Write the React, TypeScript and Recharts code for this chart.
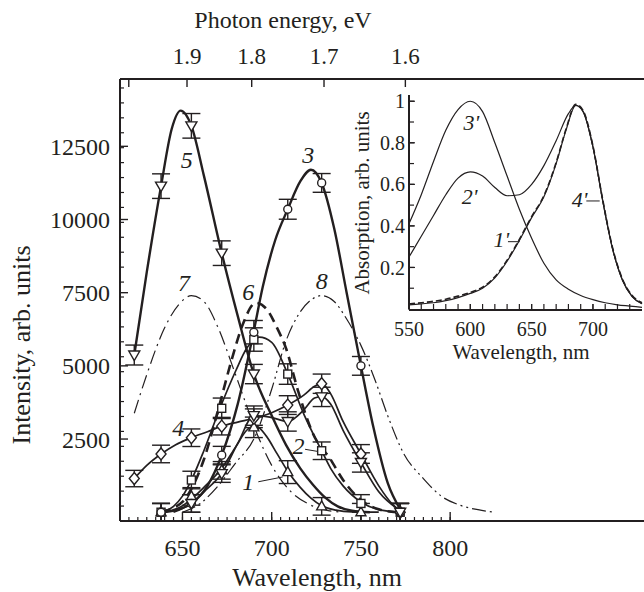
import {
  ComposedChart,
  Line,
  Scatter,
  XAxis,
  YAxis,
  ErrorBar,
  ReferenceDot,
  ReferenceLine,
} from "recharts";

const INK = "#231f20";
const SERIF = '"Liberation Serif", "Times New Roman", serif';

// ---- main panel: photoluminescence ----
const markX = [623, 638, 655, 672, 690, 709, 728, 750, 772];
const mark1 = [null, 0, 540, 1430, 2900, 1370, 200, 0, null];
const err1 = [0, 300, 300, 300, 350, 390, 300, 300, 0];
const mark2 = [null, 0, 1100, 3550, 5900, 4720, 2100, 300, 0];
const err2 = [0, 300, 300, 350, 400, 350, 300, 300, 300];
const mark3 = [null, 0, 300, 1950, 6150, 10350, 11250, 5000, 0];
const err3 = [0, 300, 300, 300, 400, 340, 320, 320, 300];
const mark4 = [1150, 1990, 2545, 2940, 3210, 3660, 4390, 1990, 0];
const err4 = [280, 300, 300, 300, 320, 320, 330, 320, 300];
const mark5 = [5370, 11140, 13200, 8850, 4720, null, null, null, null];
const err5 = [340, 420, 420, 420, 330, 0, 0, 0, 0];
const markL = [null, null, 300, 1320, 3300, 3100, 3940, 1700, 0];
const errL = [0, 0, 300, 300, 330, 330, 330, 330, 300];

const fit1X = [638, 648, 655, 662, 672, 680, 686, 691, 697, 703, 709, 716, 722, 728, 736, 745, 760];
const fit1Y = [0, 150, 450, 850, 1500, 2250, 2800, 2950, 2600, 2000, 1400, 850, 480, 220, 70, 10, 0];
const fit2X = [638, 645, 650, 655, 662, 671, 680, 686, 693, 700, 709, 718, 728, 733, 740, 750, 760, 772];
const fit2Y = [0, 200, 550, 1100, 2100, 3550, 4850, 5600, 5980, 5800, 4720, 3350, 2100, 1500, 900, 350, 90, 0];
const fit3X = [638, 648, 655, 664, 672, 681, 690, 695, 702, 709, 716, 722, 728, 735, 742, 750, 757, 765, 772];
const fit3Y = [0, 100, 300, 900, 1950, 3700, 6200, 7700, 9300, 10350, 11300, 11700, 11250, 9700, 7500, 5000, 2900, 1000, 100];
const fit4X = [623, 630, 638, 646, 655, 664, 672, 681, 690, 700, 709, 718, 724, 728, 733, 740, 750, 760, 768, 772];
const fit4Y = [1150, 1600, 1990, 2300, 2545, 2750, 2940, 3080, 3210, 3400, 3660, 4000, 4300, 4390, 4050, 3100, 1990, 900, 250, 50];
const fit5X = [623, 630, 638, 644, 649, 655, 662, 672, 681, 690, 700, 708, 716, 723, 730, 737, 745, 755];
const fit5Y = [5370, 8200, 11140, 13100, 13720, 13200, 11500, 8850, 6700, 4720, 3300, 2300, 1500, 950, 500, 200, 50, 0];
const fitLX = [645, 655, 663, 672, 681, 690, 699, 709, 718, 724, 728, 733, 740, 750, 760, 772];
const fitLY = [0, 300, 750, 1320, 2350, 3300, 3250, 3100, 3500, 3900, 3950, 3700, 2800, 1700, 700, 50];
const fit6X = [638, 645, 650, 655, 662, 670, 678, 684, 691, 697, 703, 708, 715, 723, 733, 740, 751, 760, 770];
const fit6Y = [0, 150, 350, 800, 1800, 3500, 5300, 6450, 7150, 6950, 6300, 5600, 4100, 2700, 1800, 1100, 370, 100, 0];
const fit7X = [623, 630, 640, 648, 655, 662, 670, 678, 685, 692, 700, 710, 720, 730, 740];
const fit7Y = [3380, 4700, 6300, 7100, 7400, 7200, 6300, 5000, 3800, 2650, 1600, 750, 300, 80, 0];
const fit8X = [650, 660, 670, 680, 690, 700, 708, 715, 722, 728, 735, 742, 750, 758, 765, 774, 785, 795, 805, 817, 825];
const fit8Y = [0, 300, 900, 1700, 2500, 4200, 5850, 6750, 7250, 7400, 7200, 6600, 5700, 4500, 3300, 2000, 1150, 550, 250, 70, 0];

const wlTicks = [650, 700, 750, 800];
const wlMinor = Array.from({ length: 37 }, (_, i) => 620 + i * 5);
const intTicks = [2500, 5000, 7500, 10000, 12500];
const intMinor = Array.from({ length: 29 }, (_, i) => 500 + i * 500);
const energyTicks = [2.0, 1.9, 1.8, 1.7, 1.6];
const energyLabels = ["", "1.9", "1.8", "1.7", "1.6"];

// ---- inset: absorption ----
const ab3X = [550, 560, 570, 580, 590, 600, 610, 620, 630, 640, 650, 660, 670, 680, 690, 700, 710, 720, 730, 740];
const ab3Y = [0.41, 0.55, 0.71, 0.86, 0.96, 1.0, 0.95, 0.8, 0.64, 0.48, 0.34, 0.22, 0.14, 0.095, 0.065, 0.045, 0.03, 0.02, 0.014, 0.008];
const ab2X = [550, 560, 570, 580, 590, 600, 610, 620, 630, 640, 650, 660, 670, 680, 686, 692, 700, 708, 716, 724, 732, 740];
const ab2Y = [0.25, 0.35, 0.45, 0.55, 0.63, 0.66, 0.64, 0.585, 0.545, 0.55, 0.6, 0.69, 0.81, 0.94, 0.98, 0.95, 0.78, 0.52, 0.29, 0.14, 0.06, 0.025];
const ab1X = [550, 560, 570, 580, 590, 600, 610, 620, 630, 640, 650, 660, 670, 678, 686, 692, 700, 708, 716, 724, 732, 740];
const ab1Y = [0.02, 0.025, 0.03, 0.04, 0.055, 0.075, 0.1, 0.15, 0.23, 0.33, 0.44, 0.54, 0.7, 0.86, 0.98, 0.95, 0.78, 0.52, 0.29, 0.14, 0.06, 0.025];
const ab4Y = [0.025, 0.03, 0.037, 0.047, 0.062, 0.08, 0.105, 0.155, 0.235, 0.335, 0.445, 0.545, 0.705, 0.865, 0.985, 0.955, 0.785, 0.525, 0.295, 0.145, 0.065, 0.03];

const insWlTicks = [550, 600, 650, 700];
const insWlMinor = Array.from({ length: 18 }, (_, i) => 560 + i * 10);
const insAbTicks = [0.2, 0.4, 0.6, 0.8, 1];
const insAbMinor = Array.from({ length: 10 }, (_, i) => (i + 1) / 10);

const zip = (xs: number[], ys: number[]) => xs.map((x, i) => ({ x, y: ys[i] }));
const marks = (ys: (number | null)[], es: number[]) =>
  markX
    .map((x, i) => ({ x, y: ys[i], e: es[i] }))
    .filter((p) => p.y !== null);

type P = { cx?: number; cy?: number };
const Circ = ({ cx = 0, cy = 0 }: P) => (
  <circle cx={cx} cy={cy} r={4} fill="#fff" stroke={INK} strokeWidth={1.4} />
);
const Sq = ({ cx = 0, cy = 0 }: P) => (
  <rect x={cx - 4} y={cy - 4} width={8} height={8} fill="#fff" stroke={INK} strokeWidth={1.4} />
);
const TriUp = ({ cx = 0, cy = 0 }: P) => (
  <polygon
    points={`${cx},${cy - 5.5} ${cx + 5},${cy + 3.5} ${cx - 5},${cy + 3.5}`}
    fill="#fff"
    stroke={INK}
    strokeWidth={1.4}
  />
);
const TriDown = ({ cx = 0, cy = 0 }: P) => (
  <polygon
    points={`${cx - 5.5},${cy - 4} ${cx + 5.5},${cy - 4} ${cx},${cy + 5.5}`}
    fill="#fff"
    stroke={INK}
    strokeWidth={1.4}
  />
);
const Diam = ({ cx = 0, cy = 0 }: P) => (
  <polygon
    points={`${cx},${cy - 6} ${cx + 5},${cy} ${cx},${cy + 6} ${cx - 5},${cy}`}
    fill="#fff"
    stroke={INK}
    strokeWidth={1.4}
  />
);

const tag = (text: string, size: number) => (p: any) => (
  <text
    x={p.cx}
    y={p.cy}
    textAnchor="middle"
    dominantBaseline="central"
    fontSize={size}
    fontStyle="italic"
    fontFamily={SERIF}
    fill={INK}
  >
    {text}
  </text>
);

const blank = () => "";
const tickFont = (size: number) => ({ fontSize: size, fill: INK, fontFamily: SERIF });

function MainPanel() {
  const fits: [number[], number[], number, string | undefined][] = [
    [fit7X, fit7Y, 1.2, "14 5 2 5"],
    [fit8X, fit8Y, 1.2, "14 4 2 4 2 4"],
    [fit6X, fit6Y, 2.6, "10 6"],
    [fit1X, fit1Y, 1.7, undefined],
    [fit2X, fit2Y, 1.7, undefined],
    [fitLX, fitLY, 1.7, undefined],
    [fit4X, fit4Y, 1.7, undefined],
    [fit3X, fit3Y, 2.4, undefined],
    [fit5X, fit5Y, 2.4, undefined],
  ];
  const sets: [(number | null)[], number[], (p: P) => any][] = [
    [mark1, err1, TriUp],
    [mark2, err2, Sq],
    [mark3, err3, Circ],
    [mark4, err4, Diam],
    [markL, errL, TriDown],
    [mark5, err5, TriDown],
  ];
  return (
    <ComposedChart width={700} height={592} margin={{ top: 78, right: 0, left: 118, bottom: 69 }}>
      <XAxis
        xAxisId="main"
        type="number"
        dataKey="x"
        domain={[615, 940]}
        ticks={wlTicks}
        interval={0}
        height={1}
        axisLine={{ stroke: INK, strokeWidth: 2 }}
        tickSize={-9}
        tickMargin={27}
        tickLine={{ stroke: INK, strokeWidth: 1.4 }}
        tick={tickFont(24)}
      />
      <XAxis
        xAxisId="minor"
        type="number"
        dataKey="x"
        domain={[615, 940]}
        allowDataOverflow
        ticks={wlMinor}
        interval={0}
        height={1}
        axisLine={false}
        tickSize={-5}
        tickLine={{ stroke: INK, strokeWidth: 1.2 }}
        tickFormatter={blank}
      />
      <XAxis
        xAxisId="top"
        orientation="top"
        type="number"
        dataKey="x"
        domain={[615, 940]}
        allowDataOverflow
        ticks={energyTicks.map((e) => 1239.84 / e)}
        interval={0}
        height={1}
        axisLine={{ stroke: INK, strokeWidth: 2 }}
        tickSize={-8}
        tickMargin={23}
        tickLine={{ stroke: INK, strokeWidth: 1.4 }}
        tick={tickFont(23)}
        tickFormatter={(v: number) => energyLabels[energyTicks.findIndex((e) => Math.abs(1239.84 / e - v) < 0.01)] ?? ""}
      />
      <YAxis
        yAxisId="main"
        type="number"
        dataKey="y"
        domain={[0, 14800]}
        ticks={intTicks}
        interval={0}
        width={1}
        axisLine={{ stroke: INK, strokeWidth: 2 }}
        tickSize={-8}
        tickMargin={18}
        tickLine={{ stroke: INK, strokeWidth: 1.4 }}
        tick={tickFont(24)}
      />
      <YAxis
        yAxisId="minor"
        type="number"
        dataKey="y"
        domain={[0, 14800]}
        allowDataOverflow
        ticks={intMinor}
        interval={0}
        width={1}
        axisLine={false}
        tickSize={-5}
        tickLine={{ stroke: INK, strokeWidth: 1.2 }}
        tickFormatter={blank}
      />
      {fits.map(([xs, ys, w, dash], i) => (
        <Line
          key={"f" + i}
          xAxisId="main"
          yAxisId="main"
          data={zip(xs, ys)}
          dataKey="y"
          type="monotone"
          stroke={INK}
          strokeWidth={w}
          strokeDasharray={dash}
          dot={false}
          activeDot={false}
          isAnimationActive={false}
        />
      ))}
      {sets.map(([ys, es, Shape], i) => (
        <Scatter
          key={"m" + i}
          xAxisId="main"
          yAxisId="main"
          data={marks(ys, es)}
          dataKey="y"
          shape={(p: any) => <Shape cx={p.cx} cy={p.cy} />}
          isAnimationActive={false}
        >
          <ErrorBar dataKey="e" direction="y" width={9} stroke={INK} strokeWidth={1.4} />
        </Scatter>
      ))}
      <ReferenceLine xAxisId="main" yAxisId="main" segment={[{ x: 692.5, y: 1040 }, { x: 706.2, y: 1205 }]} stroke={INK} strokeWidth={1} />
      <ReferenceLine xAxisId="main" yAxisId="main" segment={[{ x: 718.7, y: 2150 }, { x: 726.5, y: 2070 }]} stroke={INK} strokeWidth={1} />
      <ReferenceDot xAxisId="main" yAxisId="main" x={652.4} y={12030} shape={tag("5", 24)} />
      <ReferenceDot xAxisId="main" yAxisId="main" x={720.5} y={12200} shape={tag("3", 24)} />
      <ReferenceDot xAxisId="main" yAxisId="main" x={650.9} y={7845} shape={tag("7", 24)} />
      <ReferenceDot xAxisId="main" yAxisId="main" x={686.9} y={7510} shape={tag("6", 24)} />
      <ReferenceDot xAxisId="main" yAxisId="main" x={728} y={7900} shape={tag("8", 24)} />
      <ReferenceDot xAxisId="main" yAxisId="main" x={647.7} y={2880} shape={tag("4", 24)} />
      <ReferenceDot xAxisId="main" yAxisId="main" x={715} y={2266} shape={tag("2", 24)} />
      <ReferenceDot xAxisId="main" yAxisId="main" x={686.9} y={1038} shape={tag("1", 24)} />
    </ComposedChart>
  );
}

function Inset() {
  const curves: [number[], number[], number, string | undefined][] = [
    [ab3X, ab3Y, 1.2, undefined],
    [ab2X, ab2Y, 1.2, undefined],
    [ab1X, ab4Y, 1.6, "6 3"],
    [ab1X, ab1Y, 1.2, undefined],
  ];
  return (
    <ComposedChart width={644} height={400} margin={{ top: 95, right: 2, left: 407, bottom: 89 }}>
      <XAxis
        xAxisId="w"
        type="number"
        dataKey="x"
        domain={[550, 740]}
        ticks={insWlTicks}
        interval={0}
        height={1}
        axisLine={{ stroke: INK, strokeWidth: 2 }}
        tickSize={-6}
        tickMargin={18}
        tickLine={{ stroke: INK, strokeWidth: 1.2 }}
        tick={tickFont(20)}
      />
      <XAxis
        xAxisId="minor"
        type="number"
        dataKey="x"
        domain={[550, 740]}
        allowDataOverflow
        ticks={insWlMinor}
        interval={0}
        height={1}
        axisLine={false}
        tickSize={-5}
        tickLine={{ stroke: INK, strokeWidth: 1.2 }}
        tickFormatter={blank}
      />
      <YAxis
        yAxisId="a"
        type="number"
        dataKey="y"
        domain={[0, 1.03]}
        ticks={insAbTicks}
        interval={0}
        width={1}
        axisLine={{ stroke: INK, strokeWidth: 2 }}
        tickSize={-6}
        tickMargin={10}
        tickLine={{ stroke: INK, strokeWidth: 1.2 }}
        tick={tickFont(20)}
      />
      <YAxis
        yAxisId="minor"
        type="number"
        dataKey="y"
        domain={[0, 1.03]}
        allowDataOverflow
        ticks={insAbMinor}
        interval={0}
        width={1}
        axisLine={false}
        tickSize={-6}
        tickLine={{ stroke: INK, strokeWidth: 1.2 }}
        tickFormatter={blank}
      />
      {curves.map(([xs, ys, w, dash], i) => (
        <Line
          key={"a" + i}
          xAxisId="w"
          yAxisId="a"
          data={zip(xs, ys)}
          dataKey="y"
          type="monotone"
          stroke={INK}
          strokeWidth={w}
          strokeDasharray={dash}
          dot={false}
          activeDot={false}
          isAnimationActive={false}
        />
      ))}
      <ReferenceLine xAxisId="w" yAxisId="a" segment={[{ x: 630.7, y: 0.324 }, { x: 640.2, y: 0.324 }]} stroke={INK} strokeWidth={1} />
      <ReferenceLine xAxisId="w" yAxisId="a" segment={[{ x: 694.6, y: 0.52 }, { x: 705.5, y: 0.52 }]} stroke={INK} strokeWidth={1} />
      <ReferenceDot xAxisId="w" yAxisId="a" x={600.9} y={0.896} shape={tag("3'", 22)} />
      <ReferenceDot xAxisId="w" yAxisId="a" x={599.5} y={0.541} shape={tag("2'", 22)} />
      <ReferenceDot xAxisId="w" yAxisId="a" x={625.3} y={0.335} shape={tag("1'", 22)} />
      <ReferenceDot xAxisId="w" yAxisId="a" x={689.2} y={0.525} shape={tag("4'", 22)} />
    </ComposedChart>
  );
}

const titleStyle = (x: number, y: number, size: number, rotate = false): React.CSSProperties => ({
  position: "absolute",
  left: x,
  top: y,
  transform: `translate(-50%, -50%)${rotate ? " rotate(-90deg)" : ""}`,
  fontSize: size,
  fontFamily: SERIF,
  color: INK,
  whiteSpace: "nowrap",
  lineHeight: 1,
});

export default function App() {
  return (
    <div
      style={{
        position: "absolute",
        left: 0,
        top: 0,
        width: 644,
        height: 592,
        overflow: "hidden",
        background: "#fff",
      }}
    >
      <div style={{ position: "absolute", left: 0, top: 0 }}>
        <MainPanel />
      </div>
      <div style={{ position: "absolute", left: 0, top: 0 }}>
        <Inset />
      </div>
      <div style={titleStyle(283, 20, 24)}>Photon energy, eV</div>
      <div style={titleStyle(317, 578, 26)}>Wavelength, nm</div>
      <div style={titleStyle(22, 345, 26, true)}>Intensity, arb. units</div>
      <div style={titleStyle(521, 352, 21)}>Wavelength, nm</div>
      <div style={titleStyle(362, 203, 21, true)}>Absorption, arb. units</div>
    </div>
  );
}
